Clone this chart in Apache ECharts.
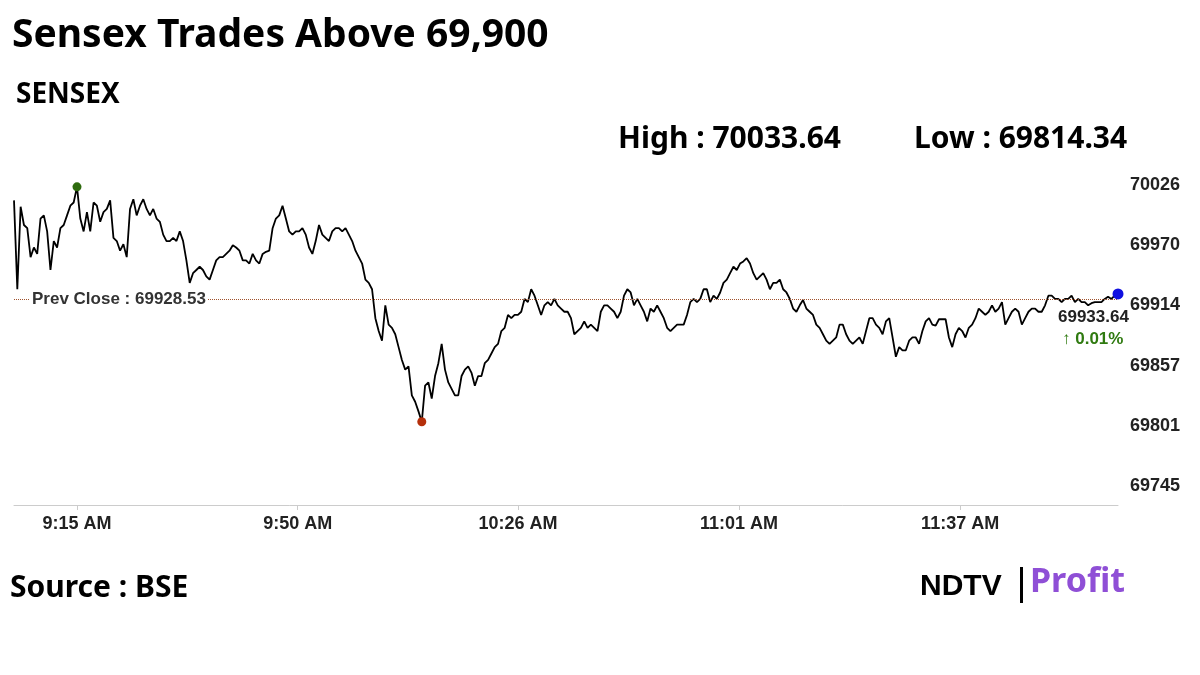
<!DOCTYPE html>
<html><head><meta charset="utf-8">
<script src="https://cdn.jsdelivr.net/npm/echarts@6/dist/echarts.min.js"></script>
<style>html,body{margin:0;padding:0;background:#fff}#c{width:1200px;height:675px}</style>
</head><body><div id="c"></div>
<script>
const seg1 = [70021,69938,70015,69998,69995,69968,69977,69971,70004,70007,69992,69956,69983,69977,69995,69998,70007,70016,70019,70033.64,70004,69992,70010,69992,70019,70016,70001,70010,70013,70021,69986,69983,69974,69980,69968,70013,70022,70007,70016,70022,70013,70007,70013,70004,70001,69989,69983,69983,69986,69983,69992,69983,69965,69944,69953,69956,69959,69956,69950,69947,69956,69965,69968,69968,69971,69974,69979,69977,69974,69965,69965,69962,69971,69965,69962,69971,69973,69974,69995,70004,70007,70016,70004,69992,69989,69992,69992,69995,69989,69977,69971,69983,69998,69989,69986,69983,69992,69995,69995,69992,69995,69989,69983,69974,69968,69962,69947,69944,69938,69911,69899];
const seg2 = [69890,69923,69905,69902,69896,69884,69872,69863,69866,69839,69833,69824,69814.34,69848,69851,69836,69857,69869,69887,69863,69851,69845,69839,69839,69857,69863,69866,69860,69848,69857,69857,69869,69872,69878,69884,69887,69899,69902,69914,69911,69914,69914,69917,69929,69926,69938,69932,69923,69914,69923,69926,69923,69929,69923,69920,69917,69917,69911,69896,69899,69902,69908,69902,69905,69902,69899,69917,69923,69923,69920,69917,69911,69917,69932,69938,69935,69923,69929,69923,69917,69908,69920,69917,69923,69917,69911,69902,69899,69902,69905,69905,69905,69914,69926,69929,69926,69929,69938,69938,69926,69932,69929,69935,69944,69947,69953,69959,69956,69962,69964,69967,69962,69953];
const seg3 = [69947,69950,69953,69947,69938,69944,69944,69947,69938,69935,69929,69920,69917,69923,69928,69920,69917,69914,69905,69902,69896,69890,69887,69890,69893,69905,69905,69896,69890,69887,69890,69893,69887,69899,69911,69911,69905,69902,69896,69908,69911,69893,69875,69884,69881,69881,69890,69893,69893,69887,69899,69908,69911,69905,69904,69910,69910,69910,69893,69884,69896,69902,69899,69893,69902,69905,69911,69920,69917,69914,69917,69923,69917,69920,69926,69905,69911,69917,69920,69917,69905,69911,69917,69920,69920,69917,69917,69923,69932,69932,69929,69929,69926,69929,69929,69932,69926,69929,69926,69926,69923,69925,69926,69926,69926,69929,69931,69929,69932,69933.64];
const prices = seg1.concat(seg2, seg3);
const timeLabels = ['9:15 AM','9:50 AM','10:26 AM','11:01 AM','11:37 AM'];
const timeFractions = [0.057,0.257,0.4565,0.6567,0.857];
const yTicks = [69745,69801,69857,69914,69970,70026];
const prevClose = 69928.53, high = 70033.64, low = 69814.34, last = 69933.64, chg = '0.01%';

const N = prices.length;
const data = prices.map((v,i)=>[i,v]);
const tickPos = timeFractions.map(f=>f*(N-1));
const iMax = prices.indexOf(high), iMin = prices.indexOf(low);
const font = 'Liberation Sans';
const chart = echarts.init(document.getElementById('c'));
chart.setOption({
  animation:false,
  grid:{left:14,right:82,top:180,bottom:179},
  xAxis:{type:'value',min:0,max:N-1,offset:9,
    axisLine:{show:true,lineStyle:{color:'#ccc'}},
    axisTick:{show:true,customValues:tickPos,lineStyle:{color:'#ccc'},length:5},
    splitLine:{show:false},
    axisLabel:{customValues:tickPos,formatter:(v)=>{let k=tickPos.findIndex(p=>Math.abs(p-v)<0.5);return k>=0?timeLabels[k]:'';},
      color:'#222',fontFamily:font,fontWeight:'bold',fontSize:18,margin:10}},
  yAxis:{type:'value',position:'right',min:69745,max:70040,
    axisLine:{show:false},axisTick:{show:false},splitLine:{show:false},
    axisLabel:{customValues:yTicks,formatter:(v)=>String(Math.round(v)),color:'#222',fontFamily:font,fontWeight:'bold',fontSize:18,margin:12,verticalAlign:'bottom',lineHeight:20}},
  series:[{type:'line',data:data,showSymbol:false,lineStyle:{color:'#000',width:1.8},
    markLine:{silent:true,symbol:'none',data:[{yAxis:prevClose}],
      lineStyle:{color:'#a0522d',type:'dotted',width:1},
      label:{position:'insideStartTop',formatter:'Prev Close : 69928.53',distance:[16,-8],color:'#333',fontFamily:font,fontWeight:'bold',fontSize:17,backgroundColor:'#fff',padding:[0,2]}},
    markPoint:{symbol:'circle',symbolSize:9,label:{show:false},data:[
      {coord:[iMax,high],itemStyle:{color:'#2e6b0e'}},
      {coord:[iMin,low],itemStyle:{color:'#b5300b'}},
      {coord:[N-1,last],itemStyle:{color:'#1010e0'},symbolSize:11}]}
  }],
  graphic:[
    {type:'text',left:12,top:16,style:{text:'Sensex Trades Above 69,900',font:'bold 39px "Noto Sans"',fill:'#000'}},
    {type:'text',left:16,top:81,style:{text:'SENSEX',font:'bold 28px "Noto Sans"',fill:'#000'}},
    {type:'text',left:618,top:124,style:{text:'High : 70033.64',font:'bold 30px "Noto Sans"',fill:'#000'}},
    {type:'text',left:914,top:124,style:{text:'Low : 69814.34',font:'bold 30px "Noto Sans"',fill:'#000'}},
    {type:'text',left:1058,top:309,style:{text:String(last),font:'bold 17px Liberation Sans',fill:'#222'}},
    {type:'text',left:1062,top:331,style:{text:'↑ '+chg,font:'bold 17px Liberation Sans',fill:'#2f7a10'}},
    {type:'text',left:10,top:573,style:{text:'Source : BSE',font:'bold 30px "Noto Sans"',fill:'#000'}},
    {type:'text',left:920,top:572,style:{text:'NDTV',font:'bold 30px "Liberation Sans"',fill:'#000'}},
    {type:'rect',shape:{x:1020,y:567,width:3,height:36},style:{fill:'#000'}},
    {type:'text',left:1030,top:565,style:{text:'Profit',font:'bold 34px "Noto Sans"',fill:'#8f4fd6'}}
  ]
});
</script></body></html>
